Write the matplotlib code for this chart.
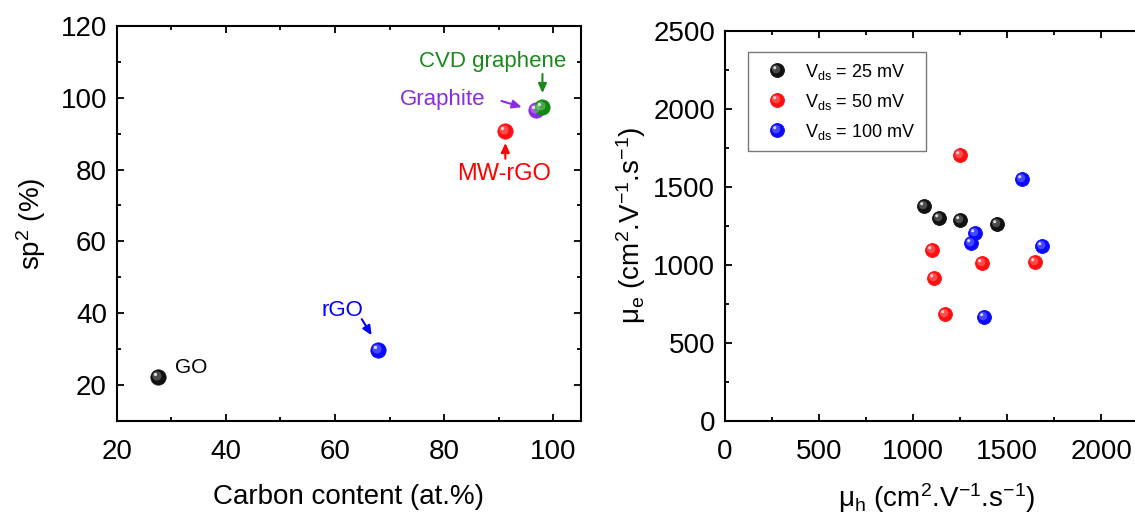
import matplotlib
matplotlib.use("Agg")
import matplotlib.pyplot as plt
from matplotlib.path import Path
from matplotlib.legend_handler import HandlerTuple
from matplotlib.ticker import MultipleLocator

plt.rcParams['font.family'] = ['Liberation Sans', 'DejaVu Sans']
plt.rcParams['mathtext.fontset'] = 'custom'
plt.rcParams['mathtext.rm'] = 'Liberation Sans'
plt.rcParams['mathtext.it'] = 'Liberation Sans'

# left panel: carbon content vs sp2 fraction
materials = ['GO', 'rGO', 'MW-rGO', 'Graphite', 'CVD graphene']
carbon = [27.6, 67.9, 91.2, 96.8, 98.0]
sp2 = [22.1, 29.6, 90.7, 96.5, 97.4]
mat_colors = ['#111111', '#0a0aff', '#ff1010', '#8a2be2', '#118a11']
label_colors = ['#000000', '#0000ff', '#ff0000', '#8a2be2', '#1a8a1a']

# right panel: hole vs electron mobility
mu_h_25 = [1059, 1140, 1251, 1445]
mu_e_25 = [1374, 1297, 1287, 1258]
mu_h_50 = [1248, 1098, 1113, 1172, 1368, 1648]
mu_e_50 = [1705, 1092, 912, 684, 1009, 1017]
mu_h_100 = [1577, 1328, 1307, 1688, 1379]
mu_e_100 = [1549, 1201, 1139, 1122, 665]
vds_labels = ['25 mV', '50 mV', '100 mV']
vds_colors = ['#111111', '#ff1010', '#0a0aff']


def spot(a, b):
    # highlight circle offset up-left by a (in marker-size units), radius b
    p = Path.circle((-a, a), b)
    return p, 2 * (a + b)


spot1, k1 = spot(0.10, 0.30)
spot2, k2 = spot(0.20, 0.11)


def sphere(ax, x, y, color, ms, zorder=3):
    base, = ax.plot(x, y, 'o', ms=ms, color=color, mec=color, mew=0.6, zorder=zorder)
    h1, = ax.plot(x, y, ls='none', marker=spot1, ms=ms * k1, color='white',
                  alpha=0.25, mew=0, zorder=zorder + 0.1)
    h2, = ax.plot(x, y, ls='none', marker=spot2, ms=ms * k2, color='white',
                  alpha=0.8, mew=0, zorder=zorder + 0.2)
    return (base, h1, h2)


def style(ax):
    for s in ax.spines.values():
        s.set_linewidth(1.5)
    ax.tick_params(which='both', direction='in', top=True, right=True, width=1.3,
                   labelsize=20)
    ax.tick_params(which='major', length=5)
    ax.tick_params(which='minor', length=3)
    ax.tick_params(axis='x', which='major', pad=13)
    ax.tick_params(axis='y', which='major', pad=7)


fig = plt.figure(figsize=(11.35, 5.21), dpi=100)

ax1 = fig.add_axes([0.1028, 0.1925, 0.4088, 0.7576])
for x, y, c in zip(carbon, sp2, mat_colors):
    sphere(ax1, [x], [y], c, 11)
ax1.set_xlim(20, 105)
ax1.set_ylim(10, 120)
ax1.xaxis.set_major_locator(MultipleLocator(20))
ax1.xaxis.set_minor_locator(MultipleLocator(10))
ax1.yaxis.set_major_locator(MultipleLocator(20))
ax1.yaxis.set_minor_locator(MultipleLocator(10))
ax1.set_yticks([20, 40, 60, 80, 100, 120])
style(ax1)
ax1.set_xlabel('Carbon content (at.%)', fontsize=20, labelpad=14)
ax1.set_ylabel(r'sp$^\mathregular{2}$ (%)', fontsize=20, labelpad=9)

arr = dict(arrowstyle='-|>,head_length=0.55,head_width=0.25', lw=1.5, shrinkA=0, shrinkB=0)
# text positions and arrows (tail -> tip) for labels
ax1.text(30.7, 24.9, 'GO', fontsize=15, color=label_colors[0], ha='left', va='center')
ax1.text(61.4, 40.7, 'rGO', fontsize=16, color=label_colors[1], ha='center', va='center')
ax1.annotate('', xy=(66.7, 33.8), xytext=(64.9, 38.3), arrowprops=dict(arr, color=label_colors[1]))
ax1.text(91.0, 78.8, 'MW-rGO', fontsize=17, color=label_colors[2], ha='center', va='center')
ax1.annotate('', xy=(91.2, 87.4), xytext=(91.2, 83.0), arrowprops=dict(arr, color=label_colors[2]))
ax1.text(79.7, 99.6, 'Graphite', fontsize=16, color=label_colors[3], ha='center', va='center')
ax1.annotate('', xy=(94.2, 97.4), xytext=(90.5, 99.1), arrowprops=dict(arr, color=label_colors[3]))
ax1.text(88.8, 110.2, 'CVD graphene', fontsize=16, color=label_colors[4], ha='center', va='center')
ax1.annotate('', xy=(98.0, 101.3), xytext=(98.0, 106.6), arrowprops=dict(arr, color=label_colors[4]))

ax2 = fig.add_axes([0.6388, 0.1925, 0.3728, 0.7486])
handles = []
for xs, ys, c in zip([mu_h_25, mu_h_50, mu_h_100], [mu_e_25, mu_e_50, mu_e_100], vds_colors):
    handles.append(sphere(ax2, xs, ys, c, 10))
ax2.set_xlim(0, 2250)
ax2.set_ylim(0, 2500)
ax2.xaxis.set_major_locator(MultipleLocator(500))
ax2.xaxis.set_minor_locator(MultipleLocator(250))
ax2.yaxis.set_major_locator(MultipleLocator(500))
ax2.yaxis.set_minor_locator(MultipleLocator(250))
style(ax2)
ax2.set_xlabel(r'$\mathregular{\mu_h}$ (cm$^\mathregular{2}$.V$^\mathregular{-1}$.s$^\mathregular{-1}$)',
               fontsize=20, labelpad=12)
ax2.set_ylabel(r'$\mathregular{\mu_e}$ (cm$^\mathregular{2}$.V$^\mathregular{-1}$.s$^\mathregular{-1}$)',
               fontsize=20, labelpad=4)

leg = ax2.legend(handles, [r'V$_\mathregular{ds}$ = ' + v for v in vds_labels],
                 handler_map={tuple: HandlerTuple(ndivide=1, pad=0)},
                 loc='upper left', bbox_to_anchor=(0.055, 0.946), borderaxespad=0,
                 fontsize=13, frameon=True, fancybox=False, handlelength=2.1,
                 handletextpad=0.5, labelspacing=0.55, borderpad=0.55)
leg.get_frame().set_edgecolor('#555555')
leg.get_frame().set_linewidth(1.0)

fig.savefig('out.png', dpi=100)
